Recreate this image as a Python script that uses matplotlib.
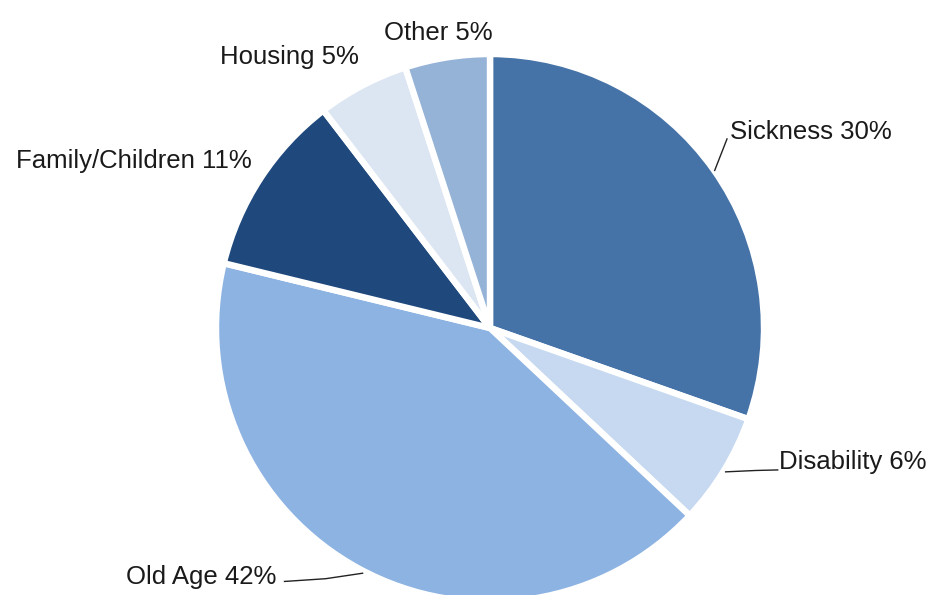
import matplotlib
matplotlib.use("Agg")
import matplotlib.pyplot as plt

# Share of spending by function, clockwise from 12 o'clock
categories = ["Sickness", "Disability", "Old Age", "Family/Children", "Housing", "Other"]
shares = [30.4, 6.6, 41.8, 10.8, 5.4, 5.0]
pct_labels = ["30%", "6%", "42%", "11%", "5%", "5%"]
colors = ["#4572A7", "#C6D9F1", "#8DB3E2", "#1F497D", "#DCE6F2", "#95B3D7"]

# label placement (data units, pie radius = 1, centre at 0,0)
label_pos = {
    "Sickness": (0.875, 0.715, "left"),
    "Disability": (1.055, -0.490, "left"),
    "Old Age": (-0.78, -0.910, "right"),
    "Family/Children": (-0.870, 0.610, "right"),
    "Housing": (-0.480, 0.990, "right"),
    "Other": (0.010, 1.075, "right"),
}
leaders = {
    "Sickness": [(0.82, 0.575), (0.865, 0.69)],
    "Disability": [(0.86, -0.525), (0.97, -0.520), (1.05, -0.518)],
    "Old Age": [(-0.465, -0.895), (-0.60, -0.915), (-0.75, -0.925)],
}

plt.rcParams["font.family"] = ["Liberation Sans", "DejaVu Sans"]

fig = plt.figure(figsize=(9.34, 5.95), dpi=100)
ax = fig.add_axes([0, 0, 1, 1])

ax.pie(shares, colors=colors, startangle=90, counterclock=False, radius=1.0,
       wedgeprops=dict(edgecolor="white", linewidth=4.6, joinstyle="round"))

for name, pct in zip(categories, pct_labels):
    x, y, ha = label_pos[name]
    ax.text(x, y, f"{name} {pct}", ha=ha, va="center", fontsize=18.5, color="#1a1a1a")

for name, pts in leaders.items():
    xs = [p[0] for p in pts]
    ys = [p[1] for p in pts]
    ax.plot(xs, ys, color="#222222", lw=1.0)

ax.set_xlim(-490 / 274, (934 - 490) / 274)
ax.set_ylim((328 - 595) / 274, 328 / 274)
ax.set_aspect("auto")
ax.axis("off")

fig.savefig("out.png", dpi=100, facecolor="white")
